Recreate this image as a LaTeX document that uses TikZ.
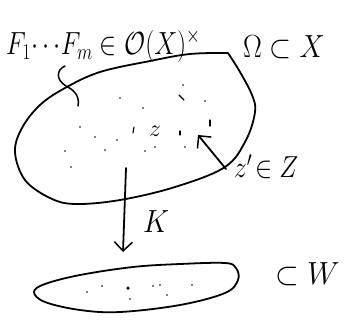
\RequirePackage{fix-cm}
\documentclass[tikz,border=0pt]{standalone}
\usepackage{amsmath,amssymb,graphicx}
\usetikzlibrary{arrows.meta}
\begin{document}
\begin{tikzpicture}[x=1pt,y=-1pt,
  ink/.style={line width=1.8pt,line cap=round,line join=round},
  barb/.style={-{Straight Barb[length=9pt,width=18pt,line width=1.5pt]}},
  lbl/.style={inner sep=0pt,font=\fontsize{32}{36}\selectfont},
  speck/.style={fill=black,circle,inner sep=0pt,minimum size=1.8pt}]
\useasboundingbox (0,0) rectangle (345,327);
% labels
\node[lbl,anchor=west] (F) at (6,46) {\scalebox{0.8}[1]{$F_1\!\cdots\! F_m \in \mathcal{O}(X)^{\times}$}};
\node[lbl,anchor=west] (Om) at (243,47) {\scalebox{0.88}[1]{$\Omega\subset X$}};
\node[lbl,anchor=west] (zp) at (234,167) {\scalebox{0.8}[0.95]{$z'\!\in Z$}};
\node[lbl,anchor=west] (K) at (143,222) {\scalebox{0.9}[1]{$K$}};
\node[lbl,anchor=west] (W) at (275,274) {\scalebox{0.95}[1]{$\subset W$}};
% big region
\draw[ink] plot[smooth,tension=0.6] coordinates {(228,53) (190,54) (150,61) (100,72) (65,88) (40,105) (22,128) (15,152) (25,180) (50,198) (75,204) (120,200) (175,187) (225,167) (246,140) (255,112) (252,95) (240,72) (228,53)};
% brace
\draw[ink,line width=1.5pt] (65,66) .. controls (56,70) and (56,80) .. (66,86) .. controls (74,90) and (80,96) .. (78,106);
% points in Omega
\node[lbl,font=\fontsize{24}{28}\selectfont] (z) at (155,131) {$z$};
\draw[ink,line width=1.1pt] (134,127) -- (133,133);
\foreach \p in {(120,98),(143,108),(183,85),(205,101),(80,127),(95,137),(117,140),(105,150),(65,151),(71,167),(145,151),(155,147),(185,147)}
  \node[speck] at \p {};
\draw[ink,line width=1.1pt] (179,95) -- (184,100);
\draw[ink,line width=1.1pt] (210,120) -- (210,126);
\draw[ink,line width=1.1pt] (180,131) -- (180,135);
% arrow to z'
\coordinate (zs) at (226,169);
\coordinate (zt) at (198,135);
\draw[ink,barb] (zs) -- (zt);
% K arrow
\coordinate (ks) at (126,168);
\coordinate (kt) at (123,252);
\draw[ink,barb] (ks) -- (kt);
% bottom region
\draw[ink] plot[smooth cycle,tension=0.6] coordinates {(225,263) (180,264) (133,267) (80,275) (45,284) (34,292) (45,302) (80,310) (120,312) (180,305) (225,293) (238,280) (236,268)};
\foreach \p in {(87,292),(102,286),(130,299),(153,286),(160,285),(167,295),(192,285)}
  \node[speck] at \p {};
\node[speck,minimum size=3.5pt] at (128,288) {};
\end{tikzpicture}
\end{document}
